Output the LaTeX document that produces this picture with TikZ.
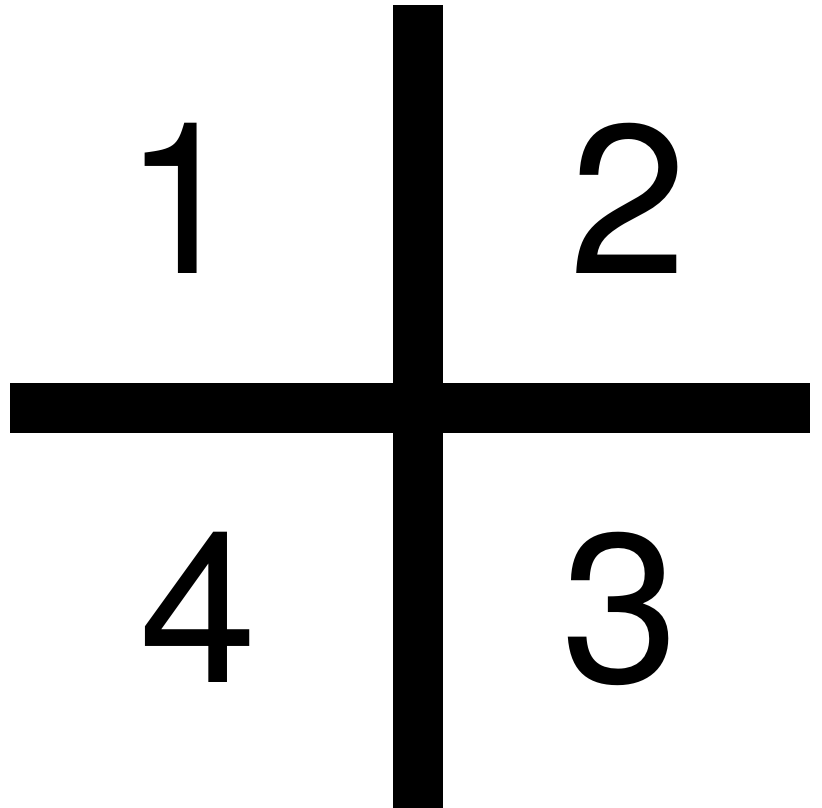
\documentclass[tikz,border=0pt]{standalone}
\usepackage{fontspec}
\setmainfont{TeX Gyre Heros}
\begin{document}
\begin{tikzpicture}[x=1pt,y=1pt,
  digit/.style={inner sep=0pt, anchor=base, font=\fontsize{212}{212}\selectfont},
  bar/.style={fill=black}]
\useasboundingbox (0,0) rectangle (822,808);
% bars
\fill[bar] (392.5,0) rectangle (443,803);
\fill[bar] (10,375) rectangle (392.5,425);
\fill[bar] (443,375) rectangle (810,425);
% digits
\node[digit] (n1) at (182.5,534) {1};
\node[digit] (n2) at (628,534) {2};
\node[digit] (n4) at (198,125) {4};
\node[digit] (n3) at (620.5,125) {3};
\end{tikzpicture}
\end{document}
